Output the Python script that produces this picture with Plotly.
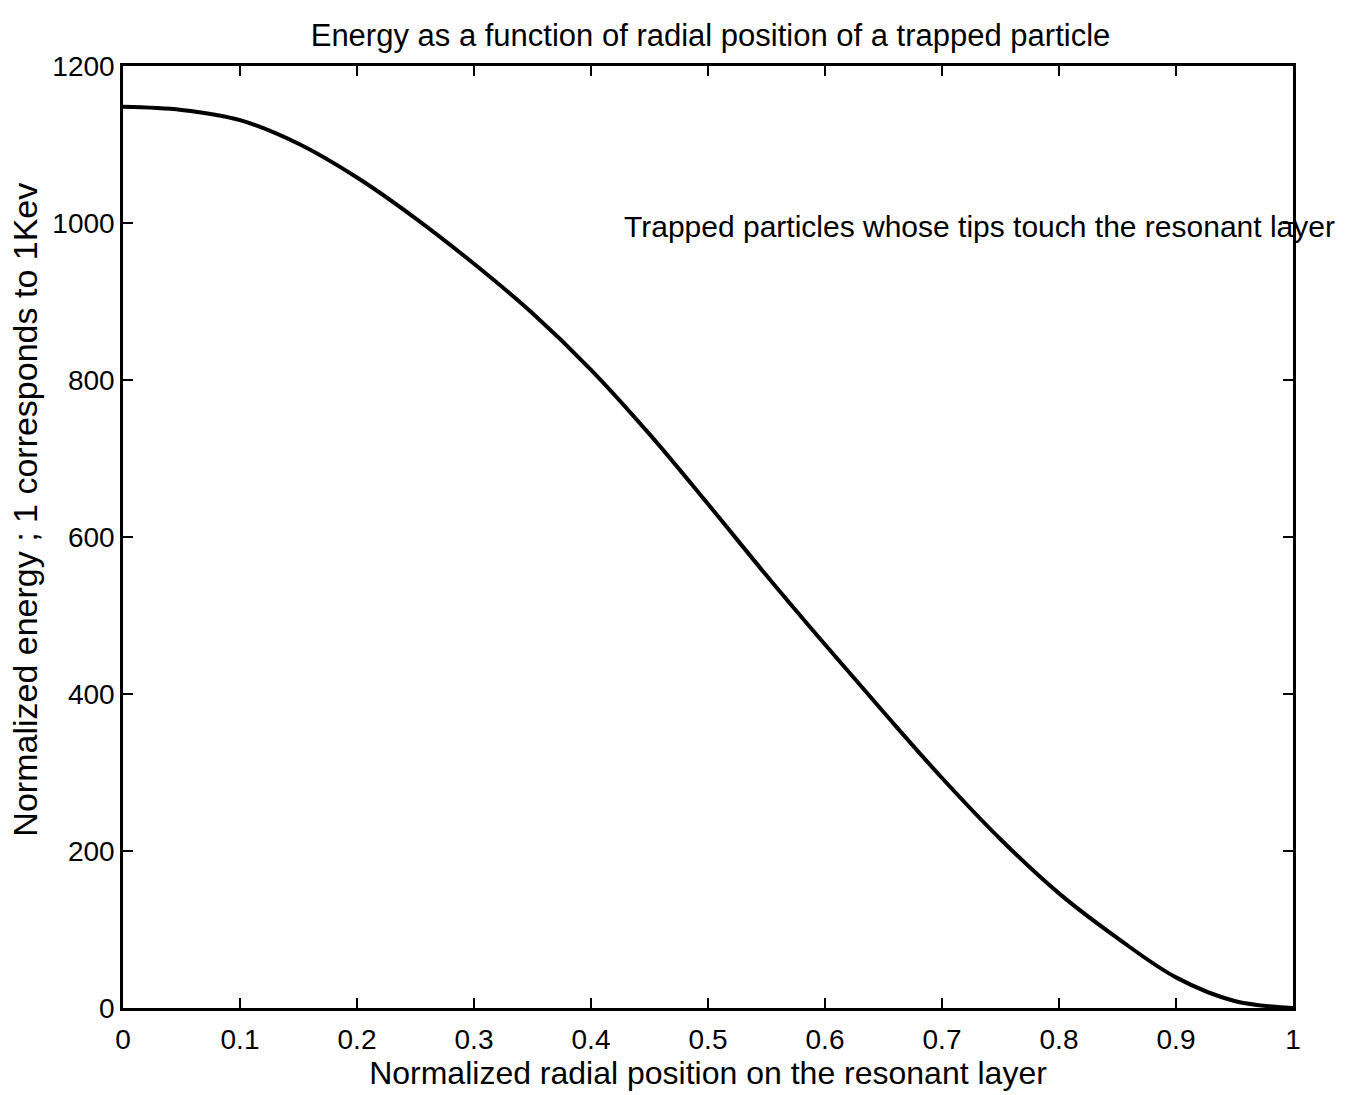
import plotly.graph_objects as go

radial_position = [0.0, 0.05, 0.1, 0.15, 0.2, 0.25, 0.3, 0.35, 0.4, 0.45, 0.5,
                   0.55, 0.6, 0.65, 0.7, 0.75, 0.8, 0.85, 0.9, 0.95, 1.0]
energy = [1148, 1144, 1131, 1101, 1058, 1006, 948, 885, 813, 731, 642,
          551, 463, 377, 293, 215, 146, 89, 39, 9, 0]

x_ticks = [0, 0.1, 0.2, 0.3, 0.4, 0.5, 0.6, 0.7, 0.8, 0.9, 1]
x_tick_labels = ["0", "0.1", "0.2", "0.3", "0.4", "0.5", "0.6", "0.7", "0.8", "0.9", "1"]
y_ticks = [0, 200, 400, 600, 800, 1000, 1200]
y_tick_labels = ["0", "200", "400", "600", "800", "1000", "1200"]

font_family = "Liberation Sans, Arial, Helvetica, sans-serif"

fig = go.Figure()
fig.add_trace(go.Scatter(
    x=radial_position, y=energy, mode="lines",
    line=dict(color="black", width=4, shape="spline", smoothing=1.0),
    showlegend=False,
))

fig.add_annotation(
    x=0.4265, y=996, xref="x", yref="y",
    text="Trapped particles whose tips touch the resonant layer",
    showarrow=False, xanchor="left", yanchor="middle",
    font=dict(family=font_family, size=30, color="black"),
)

# y-axis title placed as rotated text (slightly above the plot centre, as in the original)
fig.add_annotation(
    x=-0.0838, y=0.529, xref="paper", yref="paper",
    text="Normalized energy ; 1 corresponds to 1Kev",
    textangle=-90, showarrow=False, xanchor="center", yanchor="middle",
    font=dict(family=font_family, size=34, color="black"),
)

axis_common = dict(
    showline=True, linecolor="black", linewidth=2.5, mirror="ticks",
    ticks="inside", ticklen=10, tickwidth=2, tickcolor="black",
    showgrid=False, zeroline=False, automargin=False,
    tickfont=dict(family=font_family, size=28, color="black"),
)

fig.update_layout(
    width=1369, height=1095,
    margin=dict(l=123, r=76, t=66, b=87),
    paper_bgcolor="white", plot_bgcolor="white",
    title=dict(text="Energy as a function of radial position of a trapped particle",
               x=0.519, xanchor="center", y=0.968, yanchor="middle",
               font=dict(family=font_family, size=31, color="black")),
    xaxis=dict(range=[0, 1], tickvals=x_ticks, ticktext=x_tick_labels,
               ticklabelstandoff=5,
               title=dict(text="Normalized radial position on the resonant layer",
                          font=dict(family=font_family, size=32, color="black"),
                          standoff=8),
               **axis_common),
    yaxis=dict(range=[0, 1200], tickvals=y_ticks, ticktext=y_tick_labels,
               **axis_common),
)

fig.write_html("out.html")
